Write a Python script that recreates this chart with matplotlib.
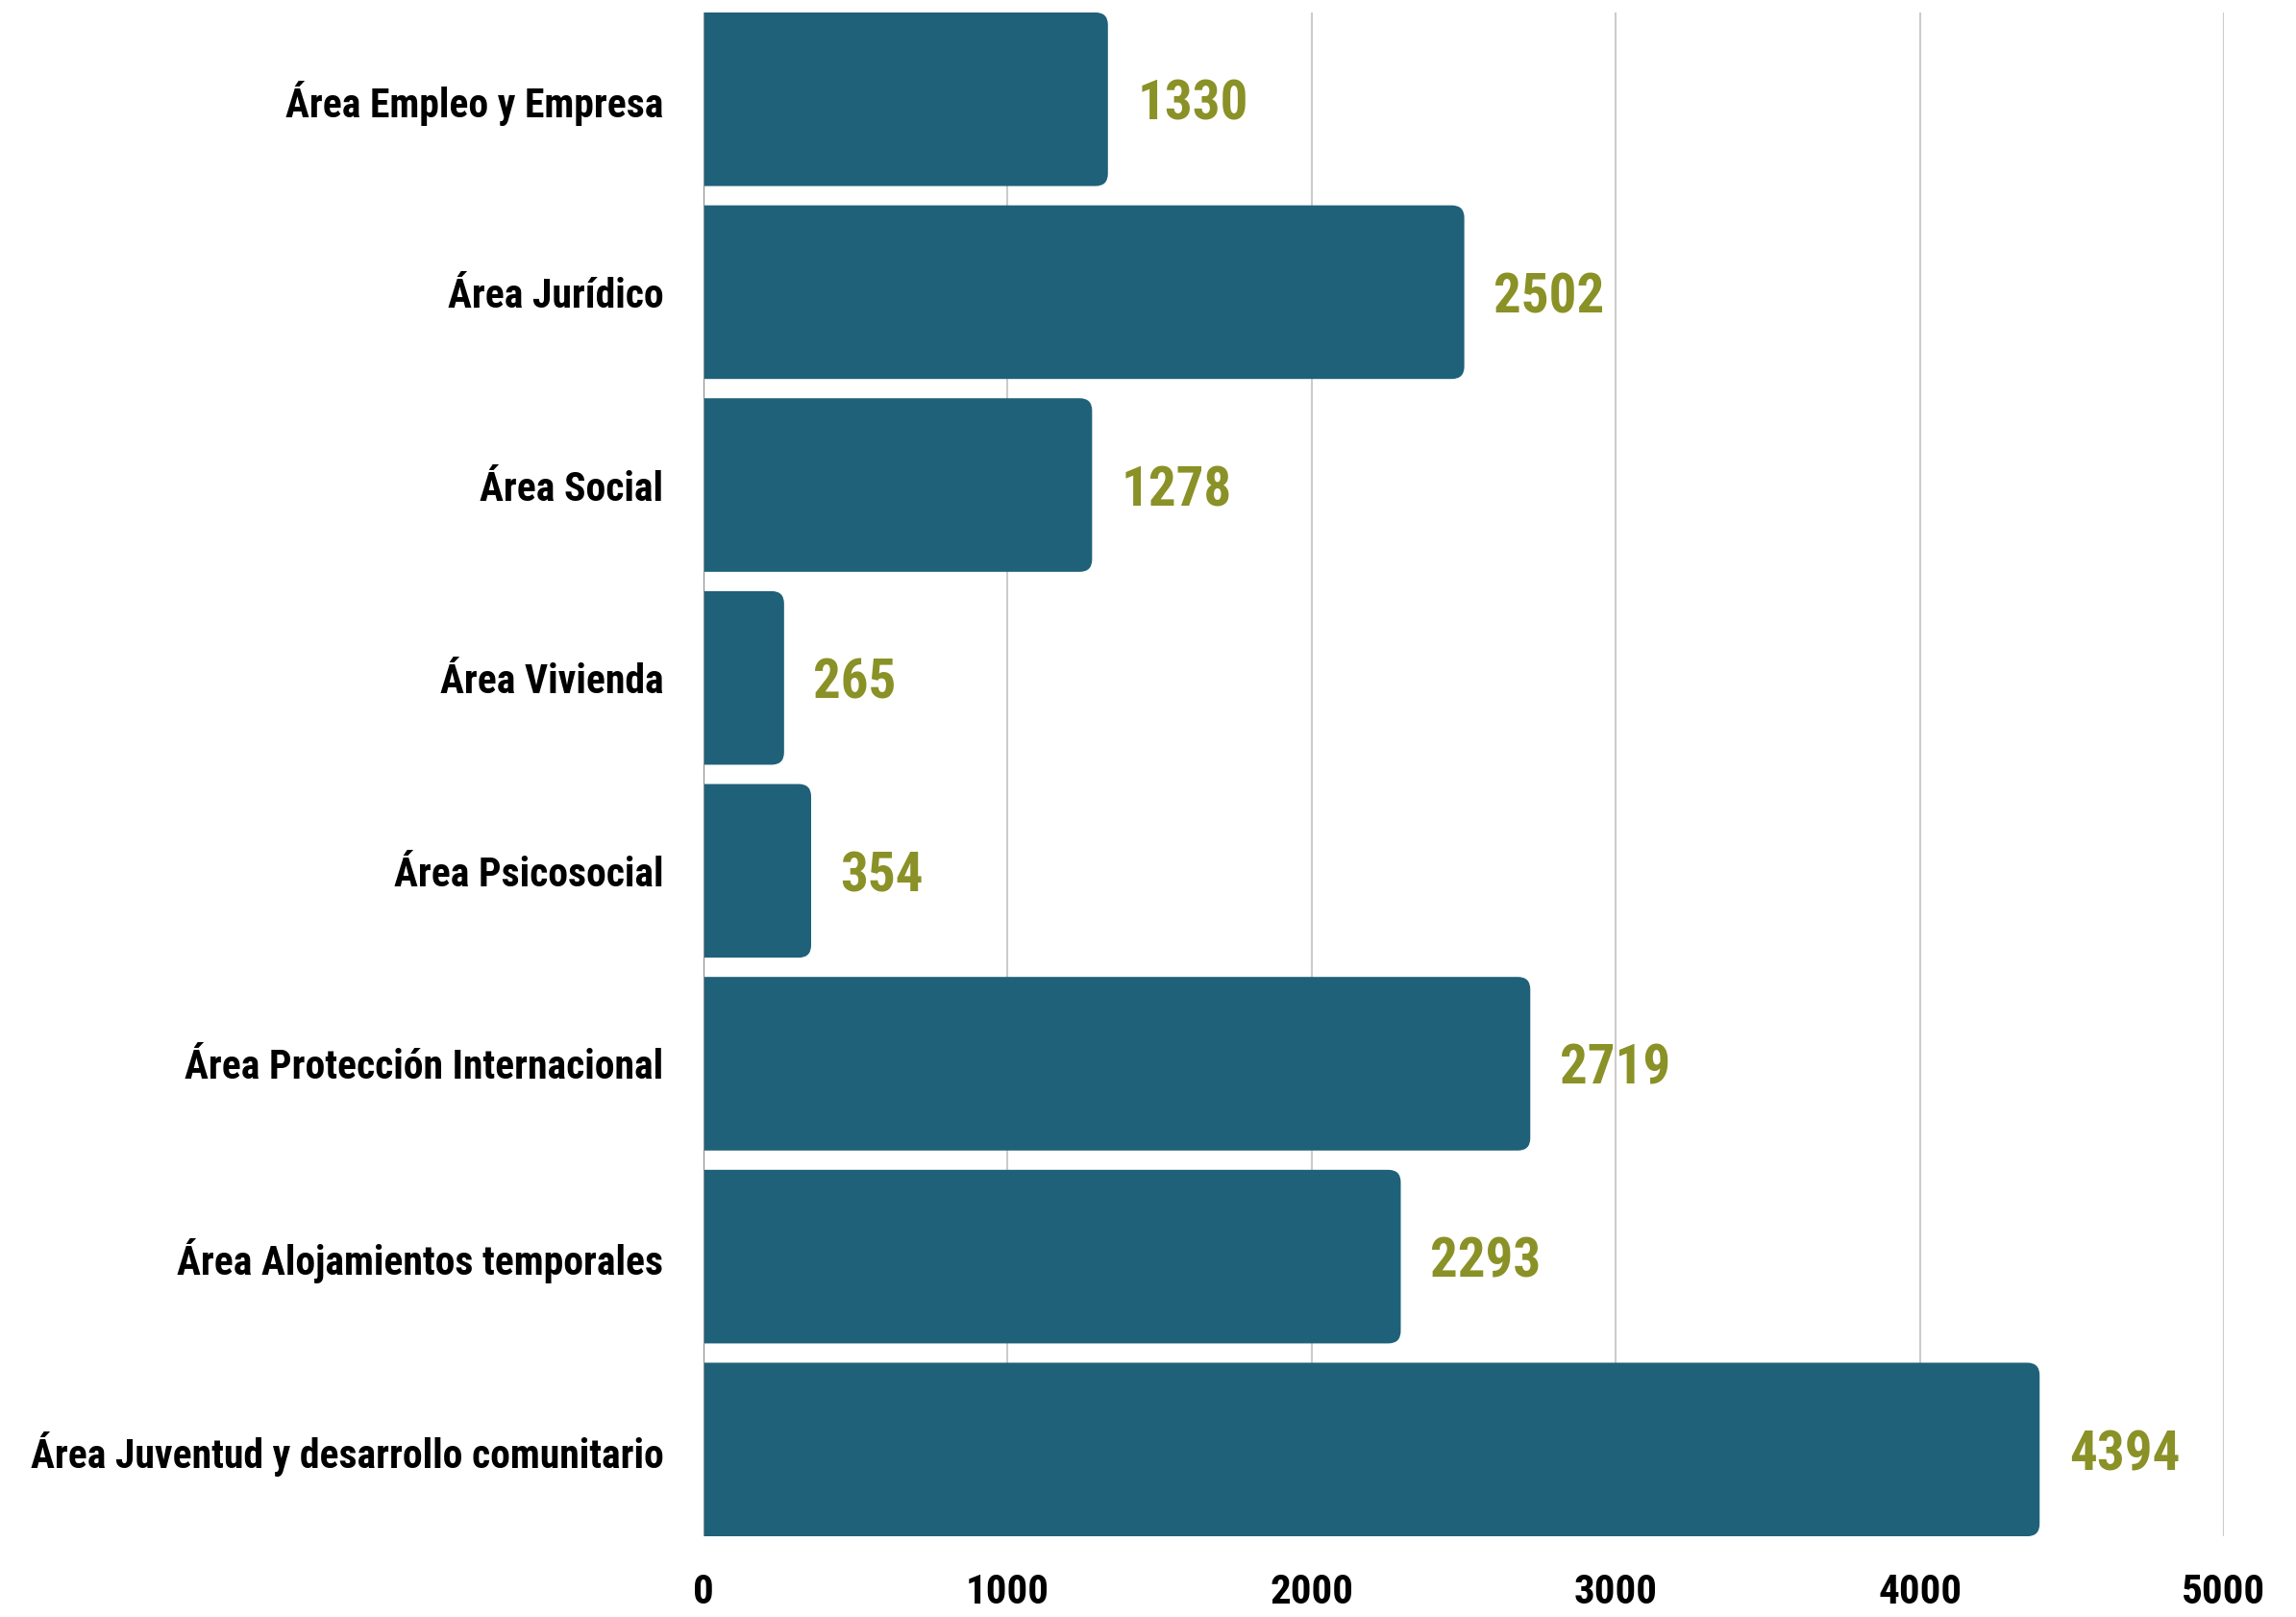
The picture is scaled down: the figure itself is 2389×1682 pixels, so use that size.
import matplotlib
matplotlib.use("Agg")
import matplotlib.pyplot as plt
from matplotlib import font_manager
from matplotlib.path import Path
from matplotlib.patches import PathPatch

# data
areas = [
    "Área Empleo y Empresa",
    "Área Jurídico",
    "Área Social",
    "Área Vivienda",
    "Área Psicosocial",
    "Área Protección Internacional",
    "Área Alojamientos temporales",
    "Área Juventud y desarrollo comunitario",
]
counts = [1330, 2502, 1278, 265, 354, 2719, 2293, 4394]
x_ticks = [0, 1000, 2000, 3000, 4000, 5000]

bar_color = "#1f6179"
value_color = "#8a9126"

# narrowest bold family we can find
installed = {f.name for f in font_manager.fontManager.ttflist}
font = "DejaVu Sans"
for name in ["Roboto Condensed", "Liberation Sans Narrow", "Open Sans Condensed", "DejaVu Sans"]:
    if name in installed:
        font = name
        break
plt.rcParams["font.family"] = [font, "DejaVu Sans"]
plt.rcParams["font.weight"] = "bold"

fig = plt.figure(figsize=(23.89, 16.82), dpi=100)
ax = fig.add_axes([0.3064, 0.0499, 0.6622, 0.9424])

ypos = list(range(len(areas)))
rects = ax.barh(ypos, counts, height=0.9, color=bar_color)
ax.set_xlim(0, 5000)
ax.set_ylim(len(areas) - 0.55, -0.45)

# swap the plain rectangles for ones with rounded right corners
px_x = ax.transData.transform((1000, 0))[0] - ax.transData.transform((0, 0))[0]
px_y = abs(ax.transData.transform((0, 1))[1] - ax.transData.transform((0, 0))[1])
rx = 13 / px_x * 1000
ry = 13 / px_y
for r in rects:
    x0, y0, w, h = r.get_x(), r.get_y(), r.get_width(), r.get_height()
    y1 = y0 + h
    verts = [(x0, y0), (w - rx, y0), (w, y0), (w, y0 + ry), (w, y1 - ry),
             (w, y1), (w - rx, y1), (x0, y1), (x0, y0)]
    codes = [Path.MOVETO, Path.LINETO, Path.CURVE3, Path.CURVE3, Path.LINETO,
             Path.CURVE3, Path.CURVE3, Path.LINETO, Path.CLOSEPOLY]
    ax.add_patch(PathPatch(Path(verts, codes), facecolor=bar_color, edgecolor="none", zorder=2))
    r.remove()

for y, v in zip(ypos, counts):
    ax.annotate(str(v), (v, y), xytext=(22, 0), textcoords="offset points",
                ha="left", va="center_baseline", color=value_color, fontsize=41, fontweight="bold")

ax.set_axisbelow(True)
ax.xaxis.grid(color="#cccccc", linewidth=1.5)
ax.axvline(0, color="#888888", linewidth=1.5, zorder=3)
for s in ax.spines.values():
    s.set_visible(False)

ax.set_xticks(x_ticks)
ax.set_xticklabels([str(t) for t in x_ticks], fontsize=31, fontweight="bold")
ax.set_yticks(ypos)
ax.set_yticklabels(areas, fontsize=30, fontweight="bold")
ax.tick_params(axis="both", length=0)
ax.tick_params(axis="y", pad=30)
ax.tick_params(axis="x", pad=27)

fig.savefig("out.png", dpi=100)
